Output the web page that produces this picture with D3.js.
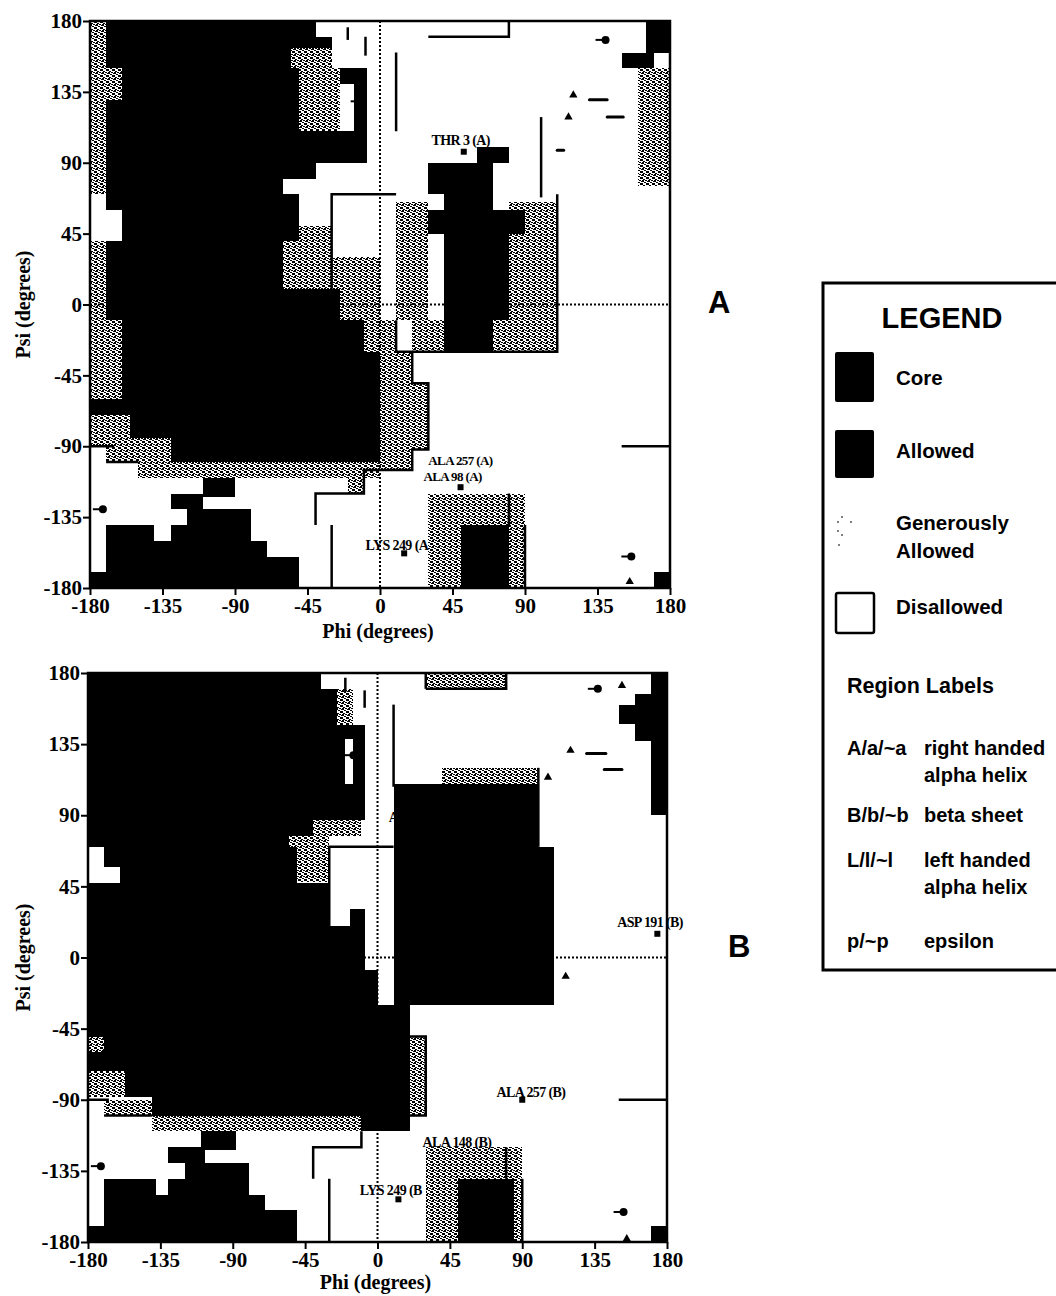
<!DOCTYPE html>
<html>
<head>
<meta charset="utf-8">
<script src="https://cdn.jsdelivr.net/npm/d3@7"></script>
<style>body{margin:0;background:#fff}</style>
</head>
<body>
<script>
const TICKS = [-180, -135, -90, -45, 0, 45, 90, 135, 180];

// Regions are [phi0, phi1, psi0, psi1] in degrees
const GRAY_A = [
  [-180,-170,-60,180], [-170,-160,130,150], [-170,-160,-60,-10], [-180,-155,-90,-70],
  [-170,-130,-100,-85], [-150,0,-110,-100], [-50,-25,110,150], [-55,-30,150,170], [-60,-30,10,50],
  [-30,0,-10,30], [-10,10,-30,-10], [0,20,-50,-30], [0,30,-92,-50], [-20,20,-105,-92],
  [-20,-10,-120,-105], [10,30,-10,65], [80,110,-10,65], [20,110,-30,-10],
  [30,90,-180,-120], [160,180,75,150]
];
const BLACK_A = [
  [-170,-40,170,180], [-170,-55,150,170], [-55,-30,163,170], [-160,-50,110,150], [-170,-160,70,130],
  [-25,-8,140,150], [-16,-8,110,140], [-170,-8,90,110], [-170,-40,80,90],
  [-170,-60,70,80], [-170,-50,60,70], [-160,-50,40,60], [-170,-60,10,40],
  [-170,-25,-10,10], [-160,-10,-30,-10], [-160,0,-60,-30], [-180,0,-70,-60],
  [-155,0,-85,-70], [-130,0,-100,-85], [-110,-90,-122,-110], [-130,-110,-130,-120],
  [-120,-80,-140,-130], [-170,-140,-150,-140], [-130,-80,-150,-140], [-170,-70,-160,-150],
  [-170,-50,-170,-160], [-180,-50,-180,-170],
  [60,80,90,100], [30,70,70,90], [40,70,60,70], [30,90,45,60], [40,80,-10,45], [40,70,-30,-10],
  [50,80,-180,-140],
  [165,180,160,180], [150,170,150,160], [170,180,-180,-170]
];
const WHITE_A = [[-180,-170,60,70], [-180,-160,40,60], [-25,-16,110,140]];
const LINES_A = [
  [[80,180],[80,170],[30,170]], [[10,160],[10,110]], [[-9,170],[-9,158]], [[-20,176],[-20,168]],
  [[100,119],[100,68]], [[-30,10],[-30,70],[10,70]], [[110,70],[110,-30],[20,-30]],
  [[10,-10],[10,-30],[20,-30],[20,-50],[30,-50],[30,-92],[20,-92],[20,-105],[-10,-105],[-10,-120],[-40,-120],[-40,-140]],
  [[-30,-140],[-30,-180]], [[80,-120],[80,-140]], [[90,-140],[90,-180]], [[150,-90],[180,-90]],
  [[-180,-90],[-165,-90]], [[-170,-100],[-150,-100]]
];
const SQUARES_A = [[52,97], [50,-116], [15,-158]];
const TRIANGLES_A = [[120,133], [117,119], [155,-176]];
const DOTS_A = [[-12,129], [140,168], [-172,-130], [156,-160]];
const DASHES_A = [[130,141,130], [141,151,119], [110,114,98]];
const LABELS_A = [["THR 3 (A)",32,101,14], ["ALA 257 (A)",30,-102,13], ["ALA 98 (A)",27,-112,13], ["LYS 249 (A",-9,-156,14]];

const GRAY_B = [
  [-25,-15,147,170], [-40,-10,77,87], [-55,-30,68,77], [-50,-30,48,68],
  [-180,-170,-60,-50], [-180,-157,-88,-72], [-170,-140,-100,-90], [-140,-10,-110,-100],
  [20,30,-100,-50], [40,100,110,120], [30,80,170,180], [30,90,-180,-120]
];
const BLACK_B = [
  [-180,-35,170,180], [-180,-25,147,170], [-180,-8,138,147], [-180,-20,110,138],
  [-15,-8,110,138], [-180,-8,87,110], [-180,-40,77,87], [-180,-55,70,77],
  [-170,-50,57,70], [-160,-50,47,57], [-180,-30,20,47], [-17,-8,20,31],
  [-180,-8,-8,20], [-180,0,-30,-8], [-180,20,-50,-30], [-170,20,-60,-50],
  [-180,20,-72,-60], [-157,20,-88,-72], [-140,20,-100,-88], [-10,20,-110,-100],
  [-110,-88,-122,-110], [-130,-107,-130,-120], [-120,-80,-140,-130], [-170,-138,-150,-140],
  [-130,-80,-150,-140], [-170,-70,-160,-150], [-170,-50,-170,-160], [-180,-50,-180,-170],
  [10,100,-30,110], [100,110,-30,70],
  [50,85,-180,-140],
  [170,180,90,180], [160,170,137,167], [150,160,148,160], [170,180,-180,-170]
];
const WHITE_B = [];
const LINES_B = [
  [[30,170],[80,170],[80,180]], [[30,170],[30,180]], [[10,160],[10,108]], [[-8,169],[-8,158]],
  [[-20,177],[-20,168]], [[100,120],[100,70]], [[-30,20],[-30,70],[10,70]],
  [[20,-50],[30,-50],[30,-100],[20,-100]], [[-40,-140],[-40,-120],[-10,-120],[-10,-110]],
  [[-30,-140],[-30,-180]], [[80,-120],[80,-140]], [[90,-140],[90,-180]], [[150,-90],[180,-90]],
  [[-180,-90],[-167,-90]], [[-170,-100],[-140,-100]]
];
const SQUARES_B = [[174,15], [90,-90], [13,-153]];
const TRIANGLES_B = [[152,172], [120,131], [106,114], [117,-12], [155,-178]];
const DOTS_B = [[-15,128], [137,170], [-172,-132], [153,-161]];
const DASHES_B = [[130,142,129], [141,152,119]];
const LABELS_B = [["ASP 191 (B)",149,19,14], ["ALA 257 (B)",74,-88,14], ["ALA 148 (B)",28,-120,14], ["LYS 249 (B",-11,-150,14], ["A",7,86,14]];

const LEGEND_ITEMS = [["Core"], ["Allowed"], ["Generously", "Allowed"], ["Disallowed"]];
const REGION_LABELS = [
  ["A/a/~a", "right handed", "alpha helix"],
  ["B/b/~b", "beta sheet"],
  ["L/l/~l", "left handed", "alpha helix"],
  ["p/~p", "epsilon"]
];

const SERIF = "'Liberation Serif', 'DejaVu Serif', serif";
const SANS = "'Liberation Sans', Arial, sans-serif";

const svg = d3.select("body").append("svg")
  .attr("width", 1056).attr("height", 1296)
  .style("display", "block").style("background", "#fff");

// speckle texture for "generously allowed"
const pat = svg.append("defs").append("pattern")
  .attr("id", "speckle").attr("patternUnits", "userSpaceOnUse")
  .attr("width", 6).attr("height", 6);
pat.append("rect").attr("width", 6).attr("height", 6).attr("fill", "#fff");
[[0,0,2,2],[3,0,2,1],[2,2,2,1],[0,3,1,2],[4,3,2,2],[1,5,2,1],[5,1,1,1]].forEach(c =>
  pat.append("rect").attr("x", c[0]).attr("y", c[1]).attr("width", c[2]).attr("height", c[3]).attr("fill", "#000"));

function drawPanel(p) {
  const x = d3.scaleLinear().domain([-180, 180]).range([p.x0, p.x1]);
  const y = d3.scaleLinear().domain([-180, 180]).range([p.y1, p.y0]);
  const g = svg.append("g");

  const rects = (arr, fill) => g.append("g").attr("shape-rendering", "crispEdges")
    .selectAll("rect").data(arr).join("rect")
    .attr("x", d => Math.round(x(d[0]))).attr("width", d => Math.round(x(d[1])) - Math.round(x(d[0])))
    .attr("y", d => Math.round(y(d[3]))).attr("height", d => Math.round(y(d[2])) - Math.round(y(d[3])))
    .attr("fill", fill);

  rects(p.gray, "url(#speckle)");
  rects(p.black, "#000");
  rects(p.white, "#fff");

  // dotted zero lines
  g.append("line").attr("x1", x(0)).attr("x2", x(0)).attr("y1", y(180)).attr("y2", y(-180))
    .attr("stroke", "#000").attr("stroke-width", 2).attr("stroke-dasharray", "2,2");
  g.append("line").attr("x1", x(-180)).attr("x2", x(180)).attr("y1", y(0)).attr("y2", y(0))
    .attr("stroke", "#000").attr("stroke-width", 2).attr("stroke-dasharray", "2,2");

  g.append("g").selectAll("path").data(p.lines).join("path")
    .attr("d", d3.line().x(d => x(d[0])).y(d => y(d[1])))
    .attr("fill", "none").attr("stroke", "#000").attr("stroke-width", 2.5);

  // residues
  g.append("g").selectAll("rect").data(p.squares).join("rect")
    .attr("x", d => x(d[0]) - 3).attr("y", d => y(d[1]) - 3)
    .attr("width", 6).attr("height", 6).attr("fill", "#000");
  g.append("g").selectAll("path").data(p.triangles).join("path")
    .attr("transform", d => `translate(${x(d[0])},${y(d[1])})`)
    .attr("d", d3.symbol(d3.symbolTriangle, 30)).attr("fill", "#000");
  const dots = g.append("g").selectAll("g").data(p.dots).join("g")
    .attr("transform", d => `translate(${x(d[0])},${y(d[1])})`);
  dots.append("circle").attr("r", 4).attr("fill", "#000");
  dots.append("line").attr("x1", -10).attr("x2", 0).attr("stroke", "#000").attr("stroke-width", 2);
  g.append("g").selectAll("line").data(p.dashes).join("line")
    .attr("x1", d => x(d[0])).attr("x2", d => x(d[1]))
    .attr("y1", d => y(d[2])).attr("y2", d => y(d[2]))
    .attr("stroke", "#000").attr("stroke-width", 3).attr("stroke-linecap", "round");
  g.append("g").selectAll("text").data(p.labels).join("text")
    .attr("x", d => x(d[1])).attr("y", d => y(d[2]))
    .attr("font-family", SERIF).attr("font-weight", "bold").attr("font-size", d => d[3])
    .attr("letter-spacing", -0.6).text(d => d[0]);

  // frame
  g.append("rect").attr("x", x(-180)).attr("y", y(180))
    .attr("width", x(180) - x(-180)).attr("height", y(-180) - y(180))
    .attr("fill", "none").attr("stroke", "#000").attr("stroke-width", 2.5);

  const styleAxis = a => {
    a.select(".domain").remove();
    a.selectAll(".tick line").attr("stroke", "#000").attr("stroke-width", 2);
    a.selectAll("text").attr("font-family", SERIF).attr("font-weight", "bold")
      .attr("font-size", 21).attr("fill", "#000");
  };
  g.append("g").attr("transform", `translate(0,${p.y1})`)
    .call(d3.axisBottom(x).tickValues(TICKS).tickFormat(d => String(d)).tickSize(7).tickSizeOuter(0).tickPadding(3))
    .call(styleAxis);
  g.append("g").attr("transform", `translate(${p.x0},0)`)
    .call(d3.axisLeft(y).tickValues(TICKS).tickFormat(d => String(d)).tickSize(7).tickSizeOuter(0).tickPadding(1))
    .call(styleAxis);

  g.append("text").attr("x", (p.x0 + p.x1) / 2 - 2).attr("y", p.xTitleY)
    .attr("text-anchor", "middle").attr("font-family", SERIF).attr("font-weight", "bold")
    .attr("font-size", 20).text("Phi (degrees)");
  g.append("text").attr("transform", `translate(30,${y(0)}) rotate(-90)`)
    .attr("text-anchor", "middle").attr("font-family", SERIF).attr("font-weight", "bold")
    .attr("font-size", 20).text("Psi (degrees)");

  g.append("text").attr("x", p.tagX).attr("y", p.tagY)
    .attr("font-family", SANS).attr("font-weight", "bold").attr("font-size", 31).text(p.tag);
}

drawPanel({ x0: 90, x1: 670, y0: 21, y1: 588, xTitleY: 638, tag: "A", tagX: 708, tagY: 313,
  gray: GRAY_A, black: BLACK_A, white: WHITE_A, lines: LINES_A, squares: SQUARES_A,
  triangles: TRIANGLES_A, dots: DOTS_A, dashes: DASHES_A, labels: LABELS_A });
drawPanel({ x0: 88, x1: 667, y0: 673, y1: 1242, xTitleY: 1289, tag: "B", tagX: 728, tagY: 957,
  gray: GRAY_B, black: BLACK_B, white: WHITE_B, lines: LINES_B, squares: SQUARES_B,
  triangles: TRIANGLES_B, dots: DOTS_B, dashes: DASHES_B, labels: LABELS_B });

// Legend
const lg = svg.append("g").attr("font-family", SANS).attr("font-weight", "bold").attr("fill", "#000");
lg.append("rect").attr("x", 823).attr("y", 283).attr("width", 260).attr("height", 687)
  .attr("fill", "none").attr("stroke", "#000").attr("stroke-width", 3);
lg.append("text").attr("x", 942).attr("y", 328).attr("text-anchor", "middle")
  .attr("font-size", 29).text("LEGEND");

const itemY = [385, 458, 530, 614];
lg.append("rect").attr("x", 835).attr("y", 352).attr("width", 39).attr("height", 50).attr("rx", 2).attr("fill", "#000");
lg.append("rect").attr("x", 835).attr("y", 430).attr("width", 39).attr("height", 48).attr("rx", 2).attr("fill", "#000");
[[842,517],[838,522],[851,522],[838,531],[842,535],[839,545]].forEach(c =>
  lg.append("circle").attr("cx", c[0]).attr("cy", c[1]).attr("r", 0.9).attr("fill", "#444"));
lg.append("rect").attr("x", 836).attr("y", 593).attr("width", 38).attr("height", 40).attr("rx", 2)
  .attr("fill", "none").attr("stroke", "#000").attr("stroke-width", 2.5);
LEGEND_ITEMS.forEach((lines, i) => lines.forEach((t, j) =>
  lg.append("text").attr("x", 896).attr("y", itemY[i] + j * 28).attr("font-size", 20.5).text(t)));

lg.append("text").attr("x", 847).attr("y", 693).attr("font-size", 21.5).text("Region Labels");
const regionY = [755, 822, 867, 948];
REGION_LABELS.forEach((r, i) => {
  lg.append("text").attr("x", 847).attr("y", regionY[i]).attr("font-size", 20).text(r[0]);
  r.slice(1).forEach((t, j) =>
    lg.append("text").attr("x", 924).attr("y", regionY[i] + j * 27).attr("font-size", 20).text(t));
});
</script>
</body>
</html>
